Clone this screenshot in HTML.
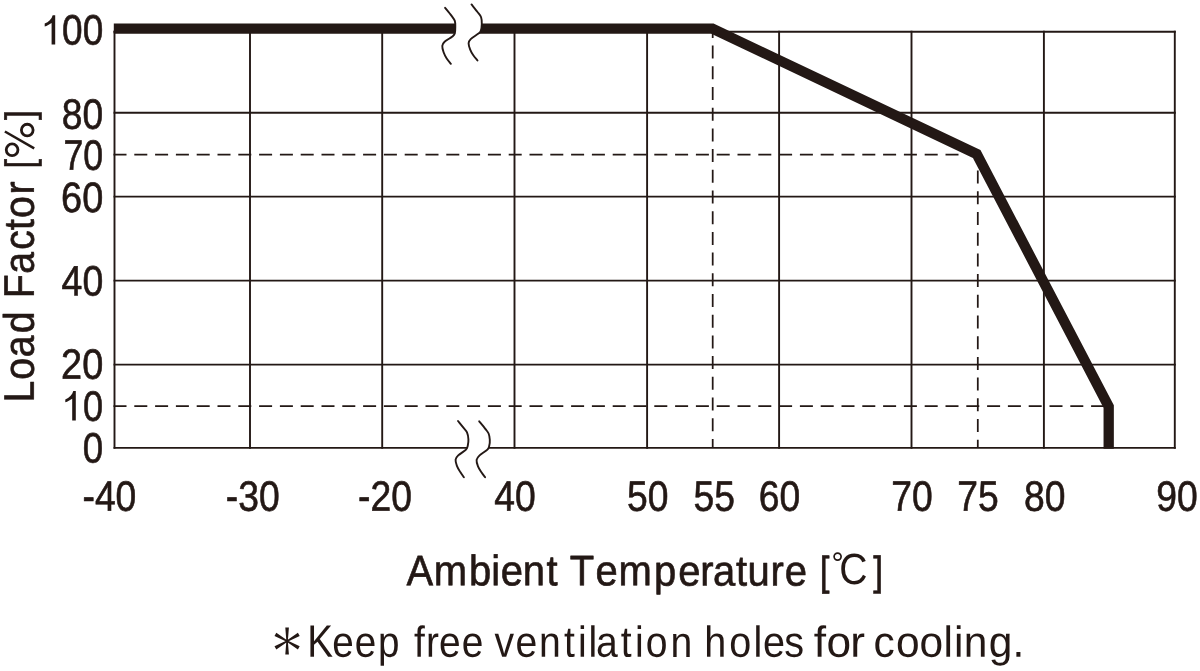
<!DOCTYPE html>
<html><head><meta charset="utf-8"><title>Derating curve</title>
<style>
html,body{margin:0;padding:0;background:#fff;}
body{width:1200px;height:671px;overflow:hidden;font-family:"Liberation Sans",sans-serif;}
svg{display:block;}
text{font-family:"Liberation Sans",sans-serif;font-size:40px;fill:#231815;stroke:#231815;stroke-width:0.6px;stroke-linejoin:round;}
svg{will-change:transform;}
.h{fill-opacity:0;stroke-opacity:0;}
.g{stroke:#231815;stroke-width:1.9;fill:none;}
.d{stroke:#231815;stroke-width:1.75;fill:none;}
.b{stroke:#231815;stroke-width:1.9;fill:none;stroke-linecap:round;stroke-linejoin:round;}
</style></head><body>
<svg width="1200" height="671" viewBox="0 0 1200 671">
<rect width="1200" height="671" fill="#fff"/>
<g class="g">
<line x1="114.5" y1="30.75" x2="114.5" y2="448.84999999999997"/>
<line x1="250.0" y1="30.75" x2="250.0" y2="448.84999999999997"/>
<line x1="382.2" y1="30.75" x2="382.2" y2="448.84999999999997"/>
<line x1="514.5" y1="30.75" x2="514.5" y2="448.84999999999997"/>
<line x1="647.1" y1="30.75" x2="647.1" y2="448.84999999999997"/>
<line x1="779.1" y1="30.75" x2="779.1" y2="448.84999999999997"/>
<line x1="911.5" y1="30.75" x2="911.5" y2="448.84999999999997"/>
<line x1="1043.9" y1="30.75" x2="1043.9" y2="448.84999999999997"/>
<line x1="1174.8" y1="30.75" x2="1174.8" y2="448.84999999999997"/>
<line x1="113.55" y1="31.7" x2="1175.75" y2="31.7"/>
<line x1="113.55" y1="112.7" x2="1175.75" y2="112.7"/>
<line x1="113.55" y1="196.6" x2="1175.75" y2="196.6"/>
<line x1="113.55" y1="280.6" x2="1175.75" y2="280.6"/>
<line x1="113.55" y1="364.6" x2="1175.75" y2="364.6"/>
<line x1="113.55" y1="447.9" x2="1175.75" y2="447.9"/>
</g>
<g class="d">
<line x1="113.5" y1="154.6" x2="960" y2="154.6" stroke-dasharray="13.0 7.8"/>
<line x1="113.5" y1="406.1" x2="1106" y2="406.1" stroke-dasharray="13.0 7.8"/>
<line x1="712.7" y1="24.9" x2="712.7" y2="448" stroke-dasharray="13.0 7.7"/>
<line x1="977.8" y1="149.9" x2="977.8" y2="448" stroke-dasharray="13.0 7.7"/>
</g>
<polyline points="113.8,28.6 712.4,28.6 976.7,154.0 1108.7,406.6 1108.7,448.7" fill="none" stroke="#231815" stroke-width="10.3" stroke-linejoin="miter" stroke-miterlimit="10"/>
<path d="M445.1,7.8 C446.15,9.10 449.78,13.42 451.4,15.6 C453.02,17.78 454.15,18.98 454.8,20.9 C455.45,22.82 455.30,25.02 455.3,27.1 C455.30,29.18 455.28,31.83 454.8,33.4 C454.32,34.97 454.10,35.12 452.4,36.5 C450.70,37.88 446.28,40.13 444.6,41.7 C442.92,43.27 442.47,44.15 442.3,45.9 C442.13,47.65 442.87,50.12 443.6,52.2 C444.33,54.28 445.48,56.47 446.7,58.4 C447.92,60.33 450.20,62.90 450.9,63.8 L477.5,60.5 C476.80,59.63 474.52,57.12 473.3,55.3 C472.08,53.48 470.98,51.60 470.2,49.6 C469.42,47.60 468.52,45.05 468.6,43.3 C468.68,41.55 469.05,40.72 470.7,39.1 C472.35,37.48 476.82,34.98 478.5,33.6 C480.18,32.22 480.25,32.40 480.8,30.8 C481.35,29.20 481.75,26.27 481.8,24 C481.85,21.73 481.82,19.20 481.1,17.2 C480.38,15.20 479.10,14.13 477.5,12 C475.90,9.87 472.50,5.67 471.5,4.4 Z" fill="#fff" stroke="none"/>
<path class="b" d="M445.1,7.8 C446.15,9.10 449.78,13.42 451.4,15.6 C453.02,17.78 454.15,18.98 454.8,20.9 C455.45,22.82 455.30,25.02 455.3,27.1 C455.30,29.18 455.28,31.83 454.8,33.4 C454.32,34.97 454.10,35.12 452.4,36.5 C450.70,37.88 446.28,40.13 444.6,41.7 C442.92,43.27 442.47,44.15 442.3,45.9 C442.13,47.65 442.87,50.12 443.6,52.2 C444.33,54.28 445.48,56.47 446.7,58.4 C447.92,60.33 450.20,62.90 450.9,63.8"/>
<path class="b" d="M471.5,4.4 C472.50,5.67 475.90,9.87 477.5,12 C479.10,14.13 480.38,15.20 481.1,17.2 C481.82,19.20 481.85,21.73 481.8,24 C481.75,26.27 481.35,29.20 480.8,30.8 C480.25,32.40 480.18,32.22 478.5,33.6 C476.82,34.98 472.35,37.48 470.7,39.1 C469.05,40.72 468.68,41.55 468.6,43.3 C468.52,45.05 469.42,47.60 470.2,49.6 C470.98,51.60 472.08,53.48 473.3,55.3 C474.52,57.12 476.80,59.63 477.5,60.5"/>
<path d="M458.0,421.0 C458.90,422.12 461.90,425.80 463.4,427.7 C464.90,429.60 466.17,430.48 467.0,432.4 C467.83,434.32 468.27,437.02 468.4,439.2 C468.53,441.38 468.20,443.77 467.8,445.5 C467.40,447.23 467.60,447.95 466.0,449.6 C464.40,451.25 459.93,453.73 458.2,455.4 C456.47,457.07 455.82,457.87 455.6,459.6 C455.38,461.33 456.12,463.72 456.9,465.8 C457.68,467.88 459.13,470.18 460.3,472.1 C461.47,474.02 463.30,476.43 463.9,477.3 L485.1,477.3 C484.52,476.52 482.78,474.43 481.6,472.6 C480.42,470.77 478.83,468.42 478.0,466.3 C477.17,464.18 476.33,461.72 476.6,459.9 C476.87,458.08 477.80,457.12 479.6,455.4 C481.40,453.68 485.78,451.25 487.4,449.6 C489.02,447.95 488.90,447.15 489.3,445.5 C489.70,443.85 489.92,441.70 489.8,439.7 C489.68,437.70 489.35,435.32 488.6,433.5 C487.85,431.68 486.87,430.83 485.3,428.8 C483.73,426.77 480.22,422.55 479.2,421.3 Z" fill="#fff" stroke="none"/>
<path class="b" d="M458.0,421.0 C458.90,422.12 461.90,425.80 463.4,427.7 C464.90,429.60 466.17,430.48 467.0,432.4 C467.83,434.32 468.27,437.02 468.4,439.2 C468.53,441.38 468.20,443.77 467.8,445.5 C467.40,447.23 467.60,447.95 466.0,449.6 C464.40,451.25 459.93,453.73 458.2,455.4 C456.47,457.07 455.82,457.87 455.6,459.6 C455.38,461.33 456.12,463.72 456.9,465.8 C457.68,467.88 459.13,470.18 460.3,472.1 C461.47,474.02 463.30,476.43 463.9,477.3"/>
<path class="b" d="M479.2,421.3 C480.22,422.55 483.73,426.77 485.3,428.8 C486.87,430.83 487.85,431.68 488.6,433.5 C489.35,435.32 489.68,437.70 489.8,439.7 C489.92,441.70 489.70,443.85 489.3,445.5 C488.90,447.15 489.02,447.95 487.4,449.6 C485.78,451.25 481.40,453.68 479.6,455.4 C477.80,457.12 476.87,458.08 476.6,459.9 C476.33,461.72 477.17,464.18 478.0,466.3 C478.83,468.42 480.42,470.77 481.6,472.6 C482.78,474.43 484.52,476.52 485.1,477.3"/>
<path fill="#231815" d="M55.20,15.30 L55.20,44.40 L51.60,44.40 L51.60,22.90 C49.40,24.50 47.00,25.70 44.70,26.40 L44.70,23.60 C48.60,22.20 51.70,19.10 52.70,15.30 Z"/>
<text transform="matrix(0.9248 0.001 0 1.0600 41.50 44.50)"><tspan class="h">1</tspan>00</text>
<text transform="matrix(0.9299 0.001 0 1.0600 61.85 128.63)" >80</text>
<text transform="matrix(0.8921 0.001 0 1.0600 63.48 169.78)" >70</text>
<text transform="matrix(0.9476 0.001 0 1.0600 61.09 211.93)" >60</text>
<text transform="matrix(0.9366 0.001 0 1.0600 61.56 295.48)" >40</text>
<text transform="matrix(0.9476 0.001 0 1.0600 61.09 378.73)" >20</text>
<path fill="#231815" d="M75.80,391.10 L75.80,420.60 L72.20,420.60 L72.20,398.70 C70.00,400.30 67.60,401.50 65.30,402.20 L65.30,399.40 C69.20,398.00 72.30,394.90 73.30,391.10 Z"/>
<text transform="matrix(0.9031 0.001 0 1.0600 63.01 420.70)"><tspan class="h">1</tspan>0</text>
<text transform="matrix(0.9184 0.001 0 1.0600 82.78 462.49)" >0</text>
<text transform="matrix(0.9320 0.001 0 1.0600 82.47 510.62)" >-40</text>
<text transform="matrix(0.9320 0.001 0 1.0600 225.87 510.62)" >-30</text>
<text transform="matrix(0.9320 0.001 0 1.0600 358.07 510.62)" >-20</text>
<text transform="matrix(0.9320 0.001 0 1.0600 494.36 510.63)" >40</text>
<text transform="matrix(0.9320 0.001 0 1.0600 627.01 510.63)" >50</text>
<text transform="matrix(0.9320 0.001 0 1.0600 693.42 510.63)" >55</text>
<text transform="matrix(0.9320 0.001 0 1.0600 758.84 510.63)" >60</text>
<text transform="matrix(0.9320 0.001 0 1.0600 891.34 510.63)" >70</text>
<text transform="matrix(0.9320 0.001 0 1.0600 957.15 510.63)" >75</text>
<text transform="matrix(0.9320 0.001 0 1.0600 1024.10 510.63)" >80</text>
<text transform="matrix(0.9320 0.001 0 1.0600 1156.25 510.63)" >90</text>
<text transform="matrix(1.0004 0.001 0 1.0676 406.00 585.15)" x="0.40 27.81 62.90 85.28 94.62 116.79 140.47 150.47 163.72 189.33 212.48 247.82 272.05 294.22 306.89 329.89 341.26 364.44 378.50">Ambient Temperature</text>
<text transform="matrix(0.8732 0.001 0 1.0140 819.75 585.10)" >[</text>
<text transform="matrix(0.8953 0.001 0 1.0140 873.34 585.10)" >]</text>
<circle cx="837.6" cy="556.6" r="3.5" fill="none" stroke="#231815" stroke-width="1.7"/>
<text transform="matrix(0.9773 0.001 0 1.0903 839.25 584.08)" style="stroke:none">C</text>
<text transform="matrix(0.001 -0.9789 1.0676 0 33.66 400.30)" x="-2.24 21.11 44.01 68.55 78.55 104.21 129.41 153.68 173.87 186.34 210.34">Load Factor</text>
<text transform="matrix(0.001 -0.8496 1.0000 0 33.31 168.59)">[</text>
<text class="h" transform="matrix(0.001 -1.0255 1.0500 0 34.16 158.20)">%</text>
<g fill="none" stroke="#231815"><circle cx="27.25" cy="130.1" r="5.85" stroke-width="2.8"/><circle cx="12.1" cy="149.8" r="5.85" stroke-width="2.8"/><line x1="4.9" y1="131.5" x2="34.2" y2="148.4" stroke-width="2.5"/></g>
<text transform="matrix(0.001 -0.9186 1.0000 0 33.31 119.95)">]</text>
<text style="stroke:none" transform="matrix(0.966 0.001 0 1.135 311.10 656.8)" x="-3.94">K</text>
<text style="stroke:none" transform="matrix(0.966 0.001 0 1.085 311.10 656.7)" x="21.94 45.23 69.33">eep</text>
<text style="stroke:none" transform="matrix(0.972 0.001 0 1.085 412.50 656.7)" x="1.49 13.85 27.24 50.75">free</text>
<text style="stroke:none" transform="matrix(0.978 0.001 0 1.085 494.60 656.7)" x="0.02 21.28 45.49 70.87 85.19 96.11 103.57 128.90 143.47 154.67 179.95">ventilation</text>
<text style="stroke:none" transform="matrix(0.989 0.001 0 1.085 706.20 656.7)" x="-1.96 23.31 47.77 57.47 78.94">holes</text>
<text style="stroke:none" transform="matrix(1.107 0.001 0 1.085 813.20 656.7)" x="0.59 12.05 33.49">for</text>
<text style="stroke:none" transform="matrix(1.063 0.001 0 1.085 876.00 656.7)" x="-2.33 18.75 40.85 63.61 73.32 82.59 105.98 128.50">cooling.</text>
<path d="M287.85,641.10 L288.90,627.60 L285.30,627.60 L286.35,641.10Z M287.48,640.45 L276.31,632.79 L274.51,635.91 L286.73,641.75Z M286.73,640.45 L274.51,646.29 L276.31,649.41 L287.48,641.75Z M286.35,641.10 L285.30,654.60 L288.90,654.60 L287.85,641.10Z M286.73,641.75 L297.89,649.41 L299.69,646.29 L287.48,640.45Z M287.48,641.75 L299.69,635.91 L297.89,632.79 L286.73,640.45Z" fill="#231815"/>
</svg></body></html>
